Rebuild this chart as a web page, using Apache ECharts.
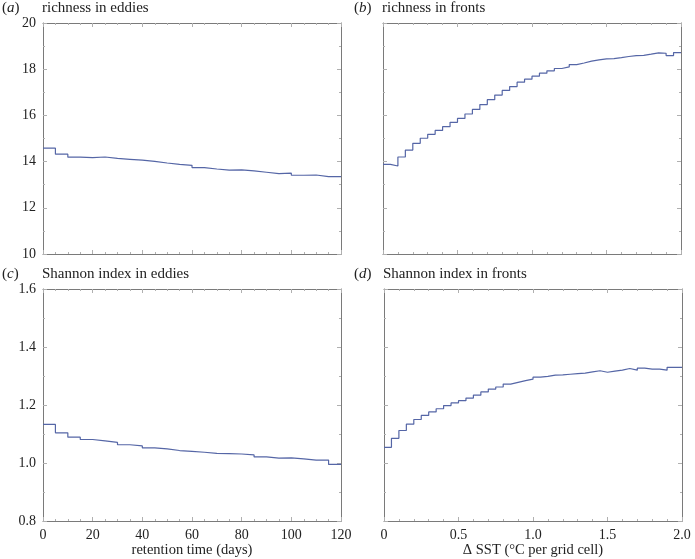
<!DOCTYPE html>
<html>
<head>
<meta charset="utf-8">
<script src="https://cdn.jsdelivr.net/npm/echarts@6/dist/echarts.min.js"></script>
<style>
  html, body { margin: 0; padding: 0; background: #fff; }
  #chart { width: 695px; height: 559px; }
</style>
</head>
<body>
<div id="chart"></div>
<script>
// bin widths
const eddyBin = 5;      // days
const frontBin = 0.05;  // degC per grid cell

// (a) richness in eddies, one value per 5-day bin
const richEddies = [14.58, 14.32, 14.19, 14.17, 14.20, 14.14, 14.10, 14.06, 14.01, 13.94,
  13.88, 13.84, 13.74, 13.68, 13.63, 13.64, 13.60, 13.54, 13.48, 13.50,
  13.41, 13.42, 13.35, 13.35];

// (b) richness in fronts, one value per 0.05 bin
const richFronts = [13.88, 13.81, 14.20, 14.50, 14.79, 15.01, 15.18, 15.35, 15.51, 15.70,
  15.87, 16.06, 16.26, 16.47, 16.68, 16.88, 17.08, 17.25, 17.44, 17.57,
  17.70, 17.83, 17.93, 18.03, 18.10, 18.20, 18.27, 18.35, 18.40, 18.45,
  18.46, 18.50, 18.55, 18.59, 18.60, 18.65, 18.71, 18.69, 18.59, 18.72];

// (c) Shannon index in eddies
const shanEddies = [1.133, 1.104, 1.089, 1.081, 1.076, 1.071, 1.063, 1.059, 1.052, 1.049,
  1.043, 1.040, 1.037, 1.033, 1.032, 1.031, 1.028, 1.021, 1.017, 1.018,
  1.014, 1.010, 1.010, 0.995];

// (d) Shannon index in fronts
const shanFronts = [1.054, 1.085, 1.112, 1.134, 1.150, 1.164, 1.176, 1.187, 1.198, 1.207,
  1.215, 1.224, 1.234, 1.245, 1.255, 1.262, 1.272, 1.278, 1.284, 1.289,
  1.296, 1.299, 1.303, 1.304, 1.306, 1.308, 1.310, 1.314, 1.318, 1.313,
  1.317, 1.320, 1.326, 1.320, 1.327, 1.324, 1.324, 1.320, 1.330, 1.330];

const panelLetters = ['a', 'b', 'c', 'd'];
const panelTitles = ['richness in eddies', 'richness in fronts', 'Shannon index in eddies', 'Shannon index in fronts'];
const xNames = ['', '', 'retention time (days)', '\u0394 SST (\u00b0C per grid cell)'];

const serif = '"Liberation Serif", "DejaVu Serif", serif';
const lineColor = '#5566a6';
const frameColor = '#7a7a7a';
const tickColor = '#b0b0b0';

// turn bins into step points (extra point closes the last bin)
function steps(vals, w) {
  const pts = vals.map((v, i) => [+(i * w).toFixed(4), v]);
  pts.push([+(vals.length * w).toFixed(4), vals[vals.length - 1]]);
  return pts;
}

const grids = [
  { left: 43, top: 23, width: 298, height: 231 },
  { left: 383, top: 23, width: 298, height: 231 },
  { left: 43, top: 289, width: 298, height: 232 },
  { left: 384, top: 289, width: 298, height: 232 }
];

const xCfg = [
  { min: 0, max: 120, interval: 20, split: 4 },
  { min: 0, max: 2, interval: 0.5, split: 5 },
  { min: 0, max: 120, interval: 20, split: 4 },
  { min: 0, max: 2, interval: 0.5, split: 5 }
];
const yCfg = [
  { min: 10, max: 20, interval: 2, split: 2 },
  { min: 10, max: 20, interval: 2, split: 2 },
  { min: 0.8, max: 1.6, interval: 0.2, split: 2 },
  { min: 0.8, max: 1.6, interval: 0.2, split: 2 }
];
const seriesData = [
  steps(richEddies, eddyBin),
  steps(richFronts, frontBin),
  steps(shanEddies, eddyBin),
  steps(shanFronts, frontBin)
];

function axisBase(cfg, gridIndex, position, showLabel, fmt) {
  return {
    type: 'value', gridIndex: gridIndex, position: position,
    min: cfg.min, max: cfg.max, interval: cfg.interval,
    axisLine: { show: true, onZero: false, lineStyle: { color: frameColor, width: 1 } },
    axisTick: { show: true, inside: true, length: 4, lineStyle: { color: tickColor } },
    minorTick: { show: true, splitNumber: cfg.split, length: 2, lineStyle: { color: tickColor } },
    splitLine: { show: false },
    axisLabel: {
      show: showLabel, color: '#222', fontFamily: serif, fontSize: 14, margin: 7,
      formatter: fmt
    }
  };
}

const xAxes = [], yAxes = [], series = [], titles = [];
for (let i = 0; i < 4; i++) {
  const xFmt = xCfg[i].max === 2 ? (v => v === 0 ? '0' : v.toFixed(1)) : (v => String(v));
  const yFmt = yCfg[i].max === 20 ? (v => String(v)) : (v => v.toFixed(1));
  const bx = axisBase(xCfg[i], i, 'bottom', i >= 2, xFmt);
  bx.name = xNames[i];
  bx.nameLocation = 'middle';
  bx.nameGap = 21;
  bx.nameTextStyle = { color: '#222', fontFamily: serif, fontSize: 14.5 };
  xAxes.push(bx);
  xAxes.push(axisBase(xCfg[i], i, 'top', false, xFmt));
  yAxes.push(axisBase(yCfg[i], i, 'left', i % 2 === 0, yFmt));
  yAxes.push(axisBase(yCfg[i], i, 'right', false, yFmt));

  series.push({
    type: 'line', step: 'end', xAxisIndex: i * 2, yAxisIndex: i * 2,
    data: seriesData[i], showSymbol: false, symbol: 'none', animation: false,
    lineStyle: { color: lineColor, width: 1.2 }
  });

  const g = grids[i];
  titles.push({
    text: '{n|(}{it|' + panelLetters[i] + '}{n|)}',
    left: i % 2 === 0 ? 2 : 354, top: g.top - 22, padding: 0,
    textStyle: {
      fontWeight: 'normal',
      rich: {
        n: { fontFamily: serif, fontSize: 15, color: '#222', fontWeight: 'normal' },
        it: { fontFamily: serif, fontSize: 15, color: '#222', fontStyle: 'italic', fontWeight: 'normal' }
      }
    }
  });
  titles.push({
    text: panelTitles[i],
    left: g.left - 1, top: g.top - 22, padding: 0,
    textStyle: { fontFamily: serif, fontSize: 15, fontWeight: 'normal', color: '#222' }
  });
}

const chart = echarts.init(document.getElementById('chart'), null, { renderer: 'canvas' });
chart.setOption({
  backgroundColor: '#fff',
  animation: false,
  title: titles,
  grid: grids,
  xAxis: xAxes,
  yAxis: yAxes,
  series: series
});
</script>
</body>
</html>
